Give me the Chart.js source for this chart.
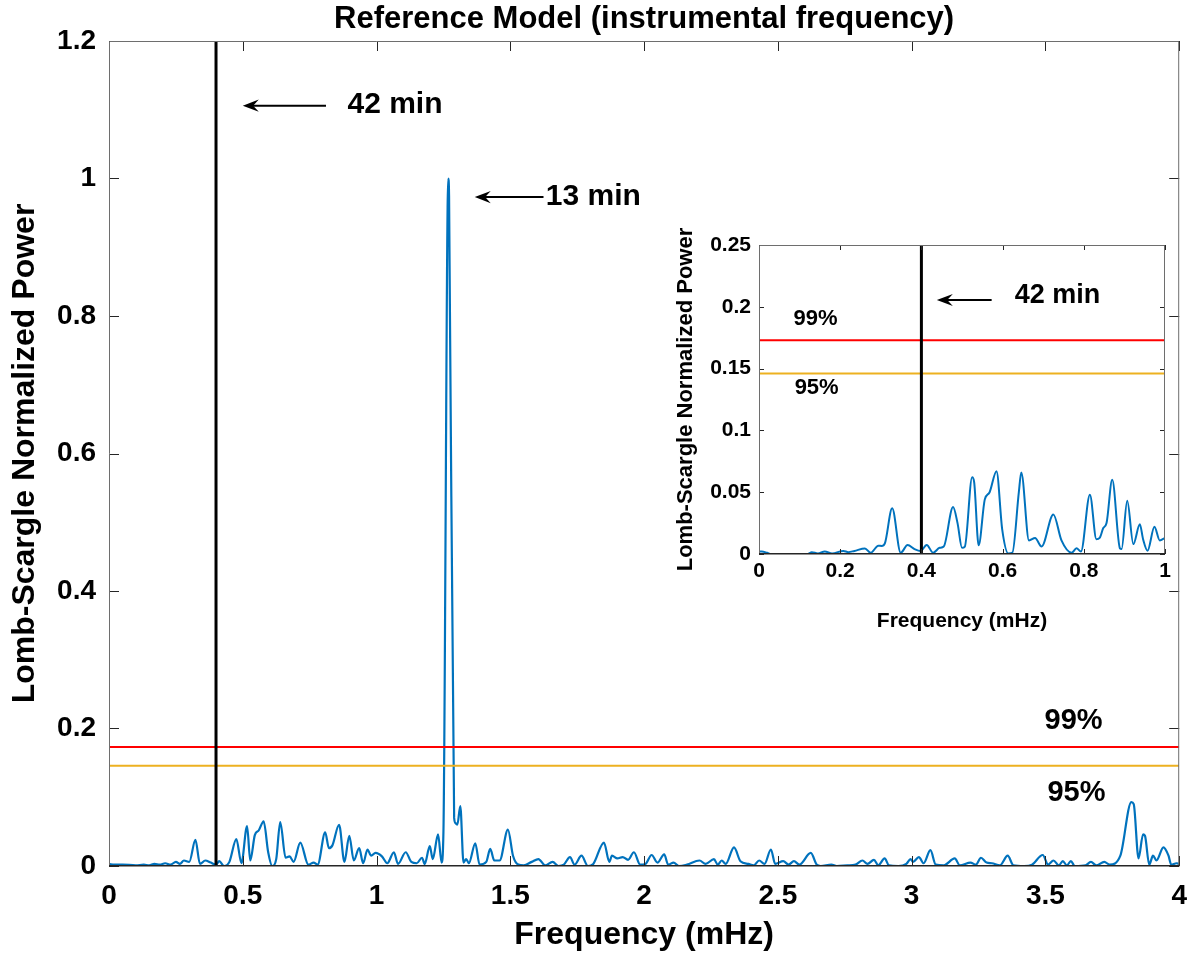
<!DOCTYPE html>
<html>
<head>
<meta charset="utf-8">
<title>Reference Model (instrumental frequency)</title>
<script src="https://cdn.jsdelivr.net/npm/chart.js@4.4.1/dist/chart.umd.min.js"></script>
<style>
  html, body { margin: 0; padding: 0; background: #fff; }
  #wrap { position: relative; width: 1200px; height: 957px; }
  canvas { position: absolute; left: 0; top: 0; }
</style>
</head>
<body>
<div id="wrap">
  <canvas id="main" width="1200" height="957"></canvas>
  <canvas id="inset" width="1200" height="957"></canvas>
</div>
<script>
// ---------------- DATA ----------------
// Main periodogram (0 - 4 mHz)
const MAIN_FREQ = [
  0.000,0.020,0.050,0.100,0.130,0.150,0.170,0.190,0.210,0.230,
  0.250,0.265,0.280,0.300,0.323,0.340,0.360,0.380,0.400,0.412,
  0.430,0.450,0.476,0.495,0.516,0.528,0.545,0.560,0.578,0.595,
  0.610,0.625,0.640,0.660,0.675,0.690,0.715,0.745,0.765,0.780,
  0.808,0.822,0.835,0.860,0.880,0.898,0.915,0.935,0.950,0.966,
  0.980,0.996,1.020,1.040,1.065,1.080,1.109,1.130,1.150,1.170,
  1.180,1.199,1.210,1.230,1.243,1.250,1.268,1.271,1.290,1.296,
  1.302,1.313,1.325,1.335,1.345,1.369,1.385,1.410,1.425,1.440,
  1.460,1.491,1.510,1.530,1.550,1.580,1.605,1.630,1.658,1.680,
  1.700,1.723,1.740,1.766,1.790,1.810,1.850,1.870,1.880,1.900,
  1.920,1.940,1.962,1.985,2.005,2.028,2.050,2.075,2.090,2.110,
  2.130,2.160,2.207,2.230,2.261,2.275,2.290,2.305,2.336,2.360,
  2.390,2.410,2.430,2.450,2.474,2.490,2.520,2.540,2.560,2.580,
  2.623,2.645,2.660,2.700,2.720,2.760,2.790,2.816,2.835,2.859,
  2.875,2.899,2.915,2.950,2.980,2.996,3.005,3.027,3.045,3.070,
  3.090,3.120,3.161,3.180,3.220,3.240,3.259,3.280,3.300,3.330,
  3.359,3.380,3.420,3.450,3.490,3.510,3.530,3.550,3.565,3.580,
  3.595,3.610,3.650,3.670,3.690,3.720,3.740,3.780,3.821,3.830,
  3.848,3.865,3.872,3.888,3.902,3.915,3.941,3.960,3.970,3.990,
  4.000
];
const MAIN_POWER = [
  0.003,0.002,0.002,0.001,0.002,0.001,0.003,0.002,0.004,0.002,
  0.006,0.003,0.008,0.006,0.038,0.003,0.008,0.005,0.002,0.007,
  0.000,0.006,0.039,0.004,0.058,0.008,0.045,0.052,0.065,0.020,
  0.000,0.010,0.064,0.012,0.014,0.006,0.034,0.002,0.005,0.002,
  0.049,0.026,0.030,0.060,0.006,0.044,0.008,0.026,0.004,0.024,
  0.015,0.019,0.014,0.004,0.020,0.003,0.020,0.006,0.004,0.012,
  0.003,0.029,0.010,0.046,0.005,0.050,1.000,0.975,0.070,0.062,
  0.060,0.087,0.005,0.010,0.004,0.033,0.002,0.006,0.025,0.008,
  0.008,0.053,0.015,0.002,0.001,0.006,0.010,0.001,0.006,0.000,
  0.002,0.013,0.002,0.015,0.000,0.003,0.034,0.006,0.015,0.011,
  0.013,0.009,0.020,0.002,0.003,0.016,0.005,0.017,0.002,0.005,
  0.000,0.002,0.008,0.003,0.010,0.002,0.008,0.003,0.027,0.007,
  0.003,0.001,0.008,0.003,0.024,0.003,0.007,0.002,0.007,0.002,
  0.019,0.002,0.000,0.002,0.000,0.001,0.002,0.008,0.003,0.009,
  0.001,0.011,0.001,0.000,0.003,0.010,0.006,0.013,0.004,0.023,
  0.002,0.001,0.011,0.001,0.005,0.002,0.012,0.005,0.004,0.001,
  0.015,0.001,0.000,0.002,0.016,0.002,0.008,0.001,0.007,0.001,
  0.007,0.000,0.001,0.006,0.001,0.006,0.002,0.015,0.093,0.090,
  0.011,0.046,0.044,0.002,0.015,0.008,0.027,0.015,0.002,0.004,
  0.003
];

// Inset periodogram (0 - 1 mHz)
const INSET_FREQ = [
  0.000,0.007,0.020,0.030,0.100,0.120,0.130,0.145,0.162,0.180,
  0.208,0.220,0.235,0.261,0.275,0.294,0.302,0.310,0.328,0.349,
  0.366,0.383,0.398,0.413,0.429,0.445,0.455,0.478,0.489,0.500,
  0.507,0.525,0.530,0.541,0.556,0.568,0.585,0.599,0.614,0.624,
  0.640,0.646,0.665,0.680,0.696,0.725,0.745,0.770,0.782,0.793,
  0.815,0.831,0.839,0.848,0.856,0.870,0.889,0.893,0.907,0.922,
  0.938,0.946,0.957,0.974,0.987,1.000
];
const INSET_POWER = [
  0.0020,0.0020,0.0010,0.0000,0.0000,0.0000,0.0015,0.0005,0.0020,0.0005,
  0.0025,0.0015,0.0025,0.0045,0.0010,0.0067,0.0065,0.0086,0.0370,0.0010,
  0.0073,0.0040,0.0024,0.0073,0.0010,0.0050,0.0060,0.0380,0.0250,0.0050,
  0.0060,0.0620,0.0580,0.0070,0.0440,0.0500,0.0670,0.0200,0.0005,0.0010,
  0.0500,0.0660,0.0110,0.0130,0.0060,0.0320,0.0110,0.0010,0.0046,0.0020,
  0.0480,0.0120,0.0130,0.0210,0.0250,0.0600,0.0046,0.0040,0.0430,0.0080,
  0.0240,0.0120,0.0027,0.0220,0.0110,0.0130
];

// Reference levels and marker
const LEVEL_99 = 0.173;
const LEVEL_95 = 0.146;
const MARK_42MIN = 0.4;

// Ticks
const MAIN_X_TICKS  = [0, 0.5, 1, 1.5, 2, 2.5, 3, 3.5, 4];
const MAIN_X_LABELS = ['0','0.5','1','1.5','2','2.5','3','3.5','4'];
const MAIN_Y_TICKS  = [0, 0.2, 0.4, 0.6, 0.8, 1, 1.2];
const MAIN_Y_LABELS = ['0','0.2','0.4','0.6','0.8','1','1.2'];
const INSET_X_TICKS  = [0, 0.2, 0.4, 0.6, 0.8, 1];
const INSET_X_LABELS = ['0','0.2','0.4','0.6','0.8','1'];
const INSET_Y_TICKS  = [0, 0.05, 0.1, 0.15, 0.2, 0.25];
const INSET_Y_LABELS = ['0','0.05','0.1','0.15','0.2','0.25'];

// ---------------- STYLE ----------------
const FONT = "'Liberation Sans', Arial, Helvetica, sans-serif";
const BLUE = '#0072BD', RED = '#FF0000', ORANGE = '#EDB120', BLACK = '#000000';

function pts(xs, ys) { return xs.map((x, i) => ({ x: x, y: ys[i] })); }

function makeDecor(cfg) {
  return {
    id: 'decor',
    beforeDraw(chart) {
      if (!cfg.background) return;
      const c = chart.ctx;
      c.save(); c.fillStyle = '#ffffff';
      c.fillRect(0, 0, chart.width, chart.height); c.restore();
    },
    afterDatasetsDraw(chart) {
      const c = chart.ctx, a = chart.chartArea, xs = chart.scales.x, ys = chart.scales.y;
      c.save();
      // inward tick marks
      c.strokeStyle = '#262626'; c.lineWidth = 1;
      xs.ticks.forEach(t => {
        const p = Math.round(xs.getPixelForValue(t.value)) + 0.5;
        c.beginPath();
        c.moveTo(p, a.bottom); c.lineTo(p, a.bottom - cfg.tickLen);
        c.moveTo(p, a.top); c.lineTo(p, a.top + cfg.tickLen);
        c.stroke();
      });
      ys.ticks.forEach(t => {
        const p = Math.round(ys.getPixelForValue(t.value)) + 0.5;
        c.beginPath();
        c.moveTo(a.left, p); c.lineTo(a.left + cfg.tickLen, p);
        c.moveTo(a.right, p); c.lineTo(a.right - cfg.tickLen, p);
        c.stroke();
      });
      // box
      c.strokeStyle = '#6e6e6e';
      c.beginPath();
      c.moveTo(a.left + 0.5, a.bottom); c.lineTo(a.left + 0.5, a.top + 0.5);
      c.lineTo(a.right - 0.5, a.top + 0.5); c.lineTo(a.right - 0.5, a.bottom);
      c.stroke();
      c.strokeStyle = '#262626'; c.lineWidth = 1.5;
      c.beginPath(); c.moveTo(a.left, a.bottom - 0.25); c.lineTo(a.right, a.bottom - 0.25); c.stroke();
      // arrows
      c.strokeStyle = BLACK; c.fillStyle = BLACK;
      cfg.arrows.forEach(ar => {
        const x0 = xs.getPixelForValue(ar.from), x1 = xs.getPixelForValue(ar.to), py = ys.getPixelForValue(ar.y);
        const hl = ar.head, hw = ar.head * 0.38;
        c.lineWidth = ar.width;
        c.beginPath(); c.moveTo(x0, py); c.lineTo(x1 + hl * 0.6, py); c.stroke();
        c.beginPath();
        c.moveTo(x1, py);
        c.lineTo(x1 + hl, py - hw);
        c.lineTo(x1 + hl * 0.65, py);
        c.lineTo(x1 + hl, py + hw);
        c.closePath(); c.fill();
      });
      // texts
      cfg.texts.forEach(t => {
        c.font = 'bold ' + t.size + 'px ' + FONT;
        c.fillStyle = BLACK; c.textAlign = 'center'; c.textBaseline = 'middle';
        c.fillText(t.text, xs.getPixelForValue(t.x), ys.getPixelForValue(t.y));
      });
      c.restore();
    }
  };
}

function lineDatasets(freq, power, xmax, ymax, lw) {
  return [
    { data: [{x: MARK_42MIN, y: 0}, {x: MARK_42MIN, y: ymax}], borderColor: BLACK, borderWidth: lw.mark, order: 0 },
    { data: [{x: 0, y: LEVEL_99}, {x: xmax, y: LEVEL_99}], borderColor: RED, borderWidth: lw.level, order: 1 },
    { data: [{x: 0, y: LEVEL_95}, {x: xmax, y: LEVEL_95}], borderColor: ORANGE, borderWidth: lw.level, order: 2 },
    { data: pts(freq, power), borderColor: BLUE, borderWidth: lw.data, order: 3,
      cubicInterpolationMode: 'monotone', borderJoinStyle: 'round' }
  ];
}

function axis(cfg) {
  return {
    type: 'linear', min: cfg.min, max: cfg.max,
    afterFit(s) { if (cfg.horizontal) s.height = cfg.size; else s.width = cfg.size; },
    afterBuildTicks(s) { s.ticks = cfg.ticks.map(v => ({ value: v })); },
    grid: { display: false, drawTicks: false, drawOnChartArea: false },
    border: { display: false },
    ticks: {
      autoSkip: false, maxRotation: 0, minRotation: 0, padding: cfg.pad, color: BLACK,
      font: { family: FONT, size: cfg.tickSize, weight: 'bold' },
      callback: (v) => { const i = cfg.ticks.indexOf(v); return i >= 0 ? cfg.labels[i] : ''; }
    },
    title: {
      display: true, text: cfg.title, color: BLACK,
      font: { family: FONT, size: cfg.titleSize, weight: 'bold', lineHeight: 1.2 },
      padding: cfg.titlePad
    }
  };
}

Chart.defaults.elements.point.radius = 0;
Chart.defaults.elements.line.tension = 0;

// ---------------- MAIN CHART ----------------
new Chart(document.getElementById('main'), {
  type: 'line',
  data: { datasets: lineDatasets(MAIN_FREQ, MAIN_POWER, 4, 1.2, { mark: 3, level: 2, data: 2.2 }) },
  options: {
    responsive: false, animation: false, events: [],
    layout: { padding: { top: 0, right: 17, bottom: 0, left: 0 } },
    plugins: {
      legend: { display: false }, tooltip: { enabled: false },
      title: {
        display: true, fullSize: false, text: 'Reference Model (instrumental frequency)', color: BLACK,
        font: { family: FONT, size: 31, weight: 'bold', lineHeight: 1.2 },
        padding: { top: 1, bottom: 2.8 }
      }
    },
    scales: {
      x: axis({ horizontal: true, size: 91, min: 0, max: 4, ticks: MAIN_X_TICKS, labels: MAIN_X_LABELS,
                pad: 13, tickSize: 28, title: 'Frequency (mHz)', titleSize: 32, titlePad: { top: 0, bottom: 3 } }),
      y: axis({ horizontal: false, size: 109, min: 0, max: 1.2, ticks: MAIN_Y_TICKS, labels: MAIN_Y_LABELS,
                pad: 13, tickSize: 28, title: 'Lomb-Scargle Normalized Power', titleSize: 32, titlePad: { top: 6, bottom: 0 } })
    }
  },
  plugins: [makeDecor({
    background: true, tickLen: 10,
    arrows: [
      { from: 0.811, to: 0.50, y: 1.106, width: 2, head: 16 },
      { from: 1.624, to: 1.367, y: 0.973, width: 2, head: 16 }
    ],
    texts: [
      { text: '42 min', x: 1.069, y: 1.108, size: 30 },
      { text: '13 min', x: 1.81, y: 0.973, size: 30 },
      { text: '99%', x: 3.605, y: 0.211, size: 29 },
      { text: '95%', x: 3.616, y: 0.106, size: 29 }
    ]
  })]
});

// ---------------- INSET CHART ----------------
new Chart(document.getElementById('inset'), {
  type: 'line',
  data: { datasets: lineDatasets(INSET_FREQ, INSET_POWER, 1, 0.25, { mark: 3, level: 2, data: 2 }) },
  options: {
    responsive: false, animation: false, events: [],
    layout: { padding: { top: 245, right: 35, bottom: 313, left: 669 } },
    plugins: { legend: { display: false }, tooltip: { enabled: false }, title: { display: false } },
    scales: {
      x: axis({ horizontal: true, size: 90, min: 0, max: 1, ticks: INSET_X_TICKS, labels: INSET_X_LABELS,
                pad: 5, tickSize: 21, title: 'Frequency (mHz)', titleSize: 21, titlePad: { top: 0, bottom: 10 } }),
      y: axis({ horizontal: false, size: 90, min: 0, max: 0.25, ticks: INSET_Y_TICKS, labels: INSET_Y_LABELS,
                pad: 8, tickSize: 21, title: 'Lomb-Scargle Normalized Power', titleSize: 22, titlePad: { top: 4, bottom: 0 } })
    }
  },
  plugins: [makeDecor({
    background: false, tickLen: 5,
    arrows: [ { from: 0.573, to: 0.438, y: 0.2055, width: 2, head: 16 } ],
    texts: [
      { text: '42 min', x: 0.735, y: 0.2095, size: 27 },
      { text: '99%', x: 0.139, y: 0.19, size: 22 },
      { text: '95%', x: 0.142, y: 0.134, size: 22 }
    ]
  })]
});
</script>
</body>
</html>
